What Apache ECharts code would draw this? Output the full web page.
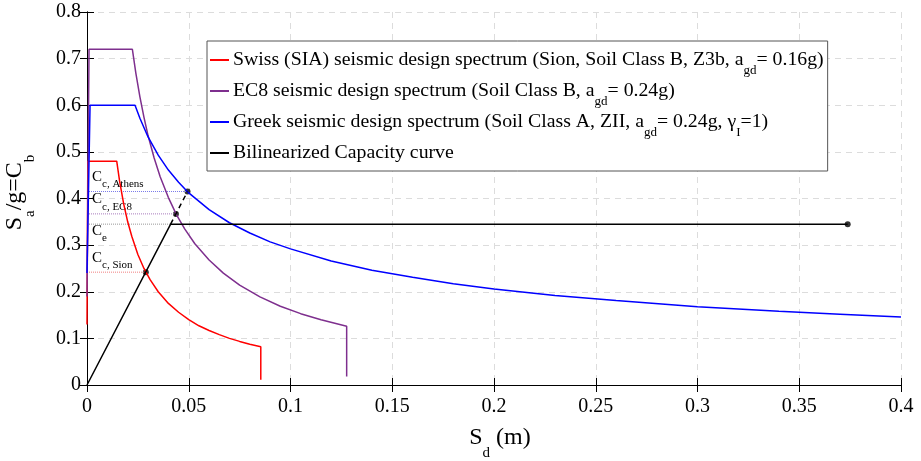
<!DOCTYPE html>
<html>
<head>
<meta charset="utf-8">
<script src="https://cdn.jsdelivr.net/npm/echarts@6/dist/echarts.min.js"></script>
<style>
html, body { margin: 0; padding: 0; background: #fff; }
#chart { width: 921px; height: 461px; }
</style>
</head>
<body>
<div id="chart"></div>
<script>
// spectra: Sd (m) / Sa/g
var swissSd = [0, 0.0004, 0.0146, 0.016, 0.018, 0.02, 0.022, 0.025, 0.028, 0.031, 0.035, 0.04, 0.045, 0.05, 0.055, 0.06, 0.065, 0.07, 0.075, 0.08, 0.0854, 0.0854];
var swissSa = [0.13, 0.48, 0.48, 0.438, 0.389, 0.35, 0.319, 0.28, 0.25, 0.226, 0.2, 0.175, 0.156, 0.14, 0.127, 0.117, 0.108, 0.1, 0.0935, 0.0876, 0.0821, 0.011];

var ec8Sd = [0, 0.001, 0.0223, 0.024, 0.026, 0.028, 0.03, 0.033, 0.036, 0.04, 0.044, 0.048, 0.053, 0.06, 0.067, 0.075, 0.085, 0.095, 0.105, 0.115, 0.1276, 0.1276];
var ec8Sa = [0.19, 0.72, 0.72, 0.669, 0.618, 0.574, 0.535, 0.487, 0.446, 0.402, 0.365, 0.335, 0.303, 0.268, 0.24, 0.214, 0.189, 0.169, 0.153, 0.14, 0.126, 0.018];

var greekSd = [0, 0.0015, 0.0236, 0.026, 0.03, 0.035, 0.04, 0.045, 0.05, 0.06, 0.07, 0.08, 0.09, 0.1, 0.12, 0.14, 0.16, 0.18, 0.2, 0.23, 0.26, 0.3, 0.34, 0.37, 0.4];
var greekSa = [0.24, 0.6, 0.6, 0.572, 0.532, 0.493, 0.461, 0.435, 0.412, 0.376, 0.348, 0.326, 0.307, 0.292, 0.266, 0.246, 0.231, 0.217, 0.206, 0.192, 0.181, 0.168, 0.158, 0.152, 0.146];

// bilinear capacity curve + elastic extension
var capSd = [0, 0.0411, 0.3738];
var capSa = [0, 0.345, 0.345];
var extSd = [0.0411, 0.0494];
var extSa = [0.345, 0.415];

// performance points (Athens, EC8, Sion) and end of capacity curve
var dotSd = [0.0494, 0.0437, 0.0289, 0.3738];
var dotSa = [0.415, 0.367, 0.242, 0.345];

// horizontal reference levels C_c / C_e
var refNames = ['c, Athens', 'c, EC8', 'e', 'c, Sion'];
var refLevel = [0.415, 0.367, 0.345, 0.242];
var refEnd = [0.0494, 0.0437, 0.0411, 0.0289];
var refColor = ['#7b7bea', '#a97cbd', '#999999', '#f08080'];
var refShift = [-22, -22, -1, -22];

var xTicks = [0, 0.05, 0.1, 0.15, 0.2, 0.25, 0.3, 0.35, 0.4];
var yTicks = [0, 0.1, 0.2, 0.3, 0.4, 0.5, 0.6, 0.7, 0.8];

var legendNames = [
    'Swiss (SIA) seismic design spectrum',
    'EC8 seismic design spectrum',
    'Greek seismic design spectrum',
    'Bilinearized Capacity curve'
];
var legendText = [
    '{t|Swiss (SIA) seismic design spectrum (Sion, Soil Class B, Z3b, a}{s|gd}{t|= 0.16g)}',
    '{t|EC8 seismic design spectrum (Soil Class B, a}{s|gd}{t|= 0.24g)}',
    '{t|Greek seismic design spectrum (Soil Class A, ZII, a}{s|gd}{t|= 0.24g, γ}{s|I}{t|=1)}',
    '{t|Bilinearized Capacity curve}{s| }'
];

function zip(xs, ys) {
    return xs.map(function (x, i) { return [x, ys[i]]; });
}

var serif = '"Liberation Serif", "DejaVu Serif", serif';

var series = [];
refLevel.forEach(function (v, i) {
    series.push({
        type: 'line', symbol: 'none', silent: true,
        data: [[0, v], [refEnd[i], v]],
        lineStyle: { color: refColor[i], width: 1, type: 'dotted' }
    });
});
series.push(
    { name: legendNames[0], type: 'line', symbol: 'none', data: zip(swissSd, swissSa), lineStyle: { color: '#ff0000', width: 1.5 }, itemStyle: { color: '#ff0000' } },
    { name: legendNames[1], type: 'line', symbol: 'none', data: zip(ec8Sd, ec8Sa), lineStyle: { color: '#7e2f8e', width: 1.5 }, itemStyle: { color: '#7e2f8e' } },
    { name: legendNames[2], type: 'line', symbol: 'none', data: zip(greekSd, greekSa), lineStyle: { color: '#0000ff', width: 1.5 }, itemStyle: { color: '#0000ff' } },
    { name: legendNames[3], type: 'line', symbol: 'none', data: zip(capSd, capSa), lineStyle: { color: '#000', width: 1.5 }, itemStyle: { color: '#000' } },
    { type: 'line', symbol: 'none', data: zip(extSd, extSa), lineStyle: { color: '#000', width: 1.5, type: [5, 4] } },
    { type: 'scatter', symbol: 'circle', symbolSize: 6, data: zip(dotSd, dotSa), itemStyle: { color: '#000' } }
);

var nameRich = {
    i: { fontFamily: serif, fontSize: 24, color: '#000', lineHeight: 28 },
    s: { fontFamily: serif, fontSize: 15, color: '#000', padding: [30, 0, 0, 0], lineHeight: 15 }
};

var option = {
    animation: false,
    backgroundColor: '#fff',
    grid: { left: 87, right: 20, top: 12, bottom: 76, outerBoundsMode: 'none', containLabel: false },
    legend: {
        data: legendNames,
        orient: 'vertical',
        left: 207, top: 41,
        padding: [2, 4, 1, 2],
        itemGap: -3,
        itemWidth: 19,
        itemHeight: 2,
        backgroundColor: '#fff',
        borderColor: '#555',
        borderWidth: 1,
        formatter: function (name) { return legendText[legendNames.indexOf(name)]; },
        textStyle: {
            fontFamily: serif, fontSize: 19.8, color: '#000', padding: [0, 0, 0, -1],
            rich: {
                t: { fontFamily: serif, fontSize: 19.8, color: '#000', lineHeight: 34 },
                s: { fontFamily: serif, fontSize: 13, color: '#000', padding: [21, 0, 0, 0], lineHeight: 13 }
            }
        }
    },
    xAxis: [{
        type: 'value', position: 'bottom', min: 0, max: 0.4, interval: 0.05,
        name: '{i|S}{s|d}{i| (m)}', nameLocation: 'middle', nameGap: 39, nameMoveOverlap: false,
        nameTextStyle: { padding: [0, 0, 0, 12], rich: nameRich },
        axisLine: { lineStyle: { color: '#000', width: 1 } },
        axisTick: { inside: true, length: 7, lineStyle: { color: '#000' } },
        axisLabel: {
            fontFamily: serif, fontSize: 20, color: '#000', margin: 12,
            formatter: function (v) { return String(xTicks[Math.round(v / 0.05)]); }
        },
        splitLine: { show: true, lineStyle: { color: '#dcdcdc', type: [6, 5] } }
    }, {
        type: 'value', position: 'top', min: 0, max: 0.4, interval: 0.05,
        axisLine: { lineStyle: { color: '#000', width: 1 } },
        axisTick: { inside: true, length: 7, lineStyle: { color: '#000' } },
        axisLabel: { show: false },
        splitLine: { show: false }
    }],
    yAxis: [{
        type: 'value', position: 'left', min: 0, max: 0.8, interval: 0.1,
        name: '{i|S}{s|a}{i|/g=C}{s|b}', nameLocation: 'middle', nameGap: 58, nameMoveOverlap: false,
        nameTextStyle: { padding: [0, 0, 0, 12], rich: nameRich },
        axisLine: { lineStyle: { color: '#000', width: 1 } },
        axisTick: { inside: true, length: 7, lineStyle: { color: '#000' } },
        axisLabel: {
            fontFamily: serif, fontSize: 20, color: '#000', margin: 6,
            formatter: function (v) { return String(yTicks[Math.round(v / 0.1)]); }
        },
        splitLine: { show: true, lineStyle: { color: '#dcdcdc', type: [6, 5] } }
    }, {
        type: 'value', position: 'right', min: 0, max: 0.8, interval: 0.1,
        axisLine: { lineStyle: { color: '#000', width: 1 } },
        axisTick: { inside: true, length: 7, lineStyle: { color: '#000' } },
        axisLabel: { show: false },
        splitLine: { show: false }
    }],
    series: series
};

var chart = echarts.init(document.getElementById('chart'));
chart.setOption(option);

// C labels next to the dotted reference levels
var labels = [];
refLevel.forEach(function (v, i) {
    var p = chart.convertToPixel({ xAxisIndex: 0, yAxisIndex: 0 }, [0, v]);
    var top = p[1] + refShift[i];
    labels.push({
        type: 'text', x: p[0] + 5, y: top, silent: true,
        style: { text: 'C', font: '15px ' + serif, fill: '#000', verticalAlign: 'top' }
    });
    labels.push({
        type: 'text', x: p[0] + 15, y: top + 9.5, silent: true,
        style: { text: refNames[i], font: '11px ' + serif, fill: '#000', verticalAlign: 'top' }
    });
});
chart.setOption({ graphic: labels });
</script>
</body>
</html>
